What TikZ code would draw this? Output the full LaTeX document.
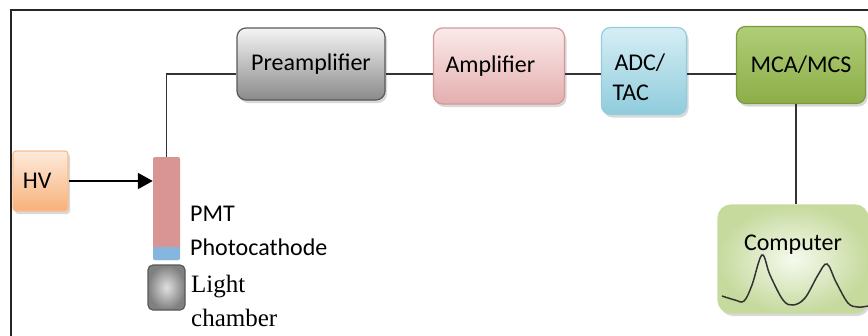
\documentclass[tikz,border=0pt]{standalone}
\usepackage{fontspec}
\setmainfont{Carlito}
\newfontfamily\chamberfont{Liberation Serif}
\usepackage{tikz}
\usetikzlibrary{arrows.meta,positioning,shadows}
\usepackage{xcolor}

\definecolor{preTop}{HTML}{F4F4F4}
\definecolor{preBot}{HTML}{8A8A8A}
\definecolor{preLine}{HTML}{595959}
\definecolor{ampTop}{HTML}{FBEAEA}
\definecolor{ampBot}{HTML}{E4AEAE}
\definecolor{ampLine}{HTML}{D49A9A}
\definecolor{adcTop}{HTML}{D6EEF5}
\definecolor{adcBot}{HTML}{8FCCDC}
\definecolor{adcLine}{HTML}{93CDDD}
\definecolor{mcaTop}{HTML}{B0CD78}
\definecolor{mcaBot}{HTML}{8CAE48}
\definecolor{mcaLine}{HTML}{7A9A3C}
\definecolor{compIn}{HTML}{F6FAEE}
\definecolor{compOut}{HTML}{C6DA9E}
\definecolor{hvTop}{HTML}{FDEBDC}
\definecolor{hvBot}{HTML}{F8B07A}
\definecolor{hvLine}{HTML}{F9BE8E}
\definecolor{pmtPink}{HTML}{D99594}
\definecolor{pmtBlue}{HTML}{84B6E0}

\begin{document}
\begin{tikzpicture}[x=1pt,y=-1pt,
	wire/.style={draw=black!80,line width=1.5pt}]
	\useasboundingbox (0,0) rectangle (868,335);
	\clip (0,0) rectangle (868,335);
	\draw[line width=1.6pt,black!85] (11,345) -- (11,10) -- (880,10);
	\coordinate (bus) at (0,74);
	\begin{scope}[every node/.style={draw,rounded corners=9pt,line width=1.2pt,
		font=\fontsize{24}{30}\selectfont,
		drop shadow={opacity=0.3,shadow xshift=2pt,shadow yshift=-3pt}}]
		\node[minimum width=148pt,minimum height=72pt,top color=preTop,bottom color=preBot,draw=preLine] (pre) at (311,64) {Preamplifier};
		\node[text width=107pt,inner xsep=12pt,align=left,minimum height=76pt,top color=ampTop,bottom color=ampBot,draw=ampLine] (amp) at (499,66) {Amplifier};
		\node[text width=63pt,inner xsep=11pt,align=left,minimum height=87pt,top color=adcTop,bottom color=adcBot,draw=adcLine] (adc) at (644,71) {\rule{0pt}{30pt}\hspace{2pt}ADC/\\TAC};
		\node[minimum width=129pt,minimum height=77pt,top color=mcaTop,bottom color=mcaBot,draw=mcaLine] (mca) at (801,65) {MCA/MCS};
		\node[minimum width=150pt,inner ysep=0pt,text height=45pt,text depth=63pt,rounded corners=13pt,inner color=compIn,outer color=compOut,draw=compOut] (comp) at (793,259) {Computer};
		\node[text width=35pt,inner xsep=10pt,align=left,minimum height=60pt,rounded corners=3pt,top color=hvTop,bottom color=hvBot,draw=hvLine] (hv) at (40.5,181) {HV};
	\end{scope}
	\node[minimum width=27pt,minimum height=103pt,inner sep=0pt,rounded corners=2pt,fill=pmtPink,
		path picture={\fill[pmtBlue] (path picture bounding box.south west) rectangle ([yshift=13pt]path picture bounding box.south east);}] (pmt) at (166.5,208.5) {};
	\node[minimum width=37pt,minimum height=45pt,inner sep=0pt,rounded corners=5pt,inner color=black!12,outer color=black!50,draw=black!65,line width=1.2pt] (lc) at (166.5,287.5) {};
	\node[anchor=north west,align=left,inner sep=0pt,font=\fontsize{24}{34}\selectfont] (pmtlab) at (190,206) {PMT\\Photocathode};
	\node[anchor=north west,align=left,inner sep=0pt,font=\chamberfont\fontsize{25}{34}\selectfont] (lclab) at (191,275) {Light\\chamber};

	\draw[wire] (pre.west |- bus) -| (pmt.north);
	\draw[wire] (pre.east |- bus) -- (amp.west |- bus);
	\draw[wire] (amp.east |- bus) -- (adc.west |- bus);
	\draw[wire] (adc.east |- bus) -- (mca.west |- bus);
	\draw[wire] ([xshift=-5pt]mca.south) -- ([xshift=-5pt]mca.south |- comp.north);
	\draw[-{Triangle[length=15pt,width=16pt]},line width=2pt] (hv.east) -- (hv.east -| pmt.west);
	\draw[line width=1.5pt,black!80] plot[smooth,tension=0.6] coordinates {(722,296) (735,300) (744,301) (752,285) (762,255) (770,275) (783,300) (793,305) (805,298) (818,275) (827,264) (836,282) (848,303) (858,307) (868,306)};
\end{tikzpicture}
\end{document}
